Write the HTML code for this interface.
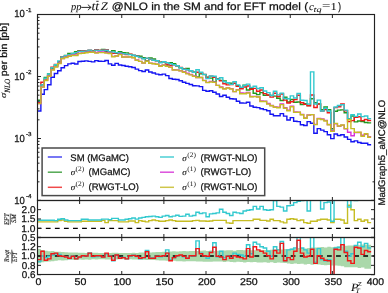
<!DOCTYPE html>
<html><head><meta charset="utf-8"><style>
html,body{margin:0;padding:0;background:#fff;}
svg{display:block;will-change:transform;}
text{fill:#111;stroke:#111;stroke-width:0.25px;text-rendering:geometricPrecision;}
</style></head><body>
<svg width="388" height="293" viewBox="0 0 388 293">
<rect width="388" height="293" fill="#fff"/>
<defs><clipPath id="cm"><rect x="37.5" y="14.5" width="337.0" height="186.0"/></clipPath>
<clipPath id="c1"><rect x="37.5" y="200.5" width="337.0" height="37.0"/></clipPath>
<clipPath id="c2"><rect x="37.5" y="237.5" width="337.0" height="37.0"/></clipPath></defs>
<g clip-path="url(#cm)" fill="none" stroke-width="1.40" stroke-linejoin="miter">
<path d="M37.50 111.00 L40.87 111.00 L40.87 94.20 L44.24 94.20 L44.24 89.60 L47.61 89.60 L47.61 84.80 L50.98 84.80 L50.98 77.20 L54.35 77.20 L54.35 73.50 L57.72 73.50 L57.72 70.80 L61.09 70.80 L61.09 67.80 L64.46 67.80 L64.46 65.60 L67.83 65.60 L67.83 63.90 L71.20 63.90 L71.20 63.20 L74.57 63.20 L74.57 64.00 L77.94 64.00 L77.94 61.50 L81.31 61.50 L81.31 61.30 L84.68 61.30 L84.68 60.90 L88.05 60.90 L88.05 61.40 L91.42 61.40 L91.42 61.90 L94.79 61.90 L94.79 60.60 L98.16 60.60 L98.16 61.20 L101.53 61.20 L101.53 61.40 L104.90 61.40 L104.90 60.50 L108.27 60.50 L108.27 63.90 L111.64 63.90 L111.64 65.20 L115.01 65.20 L115.01 63.40 L118.38 63.40 L118.38 65.00 L121.75 65.00 L121.75 65.50 L125.12 65.50 L125.12 66.30 L128.49 66.30 L128.49 66.70 L131.86 66.70 L131.86 67.50 L135.23 67.50 L135.23 69.10 L138.60 69.10 L138.60 70.60 L141.97 70.60 L141.97 71.50 L145.34 71.50 L145.34 70.00 L148.71 70.00 L148.71 72.00 L152.08 72.00 L152.08 73.00 L155.45 73.00 L155.45 74.10 L158.82 74.10 L158.82 74.80 L162.19 74.80 L162.19 74.10 L165.56 74.10 L165.56 75.60 L168.93 75.60 L168.93 78.50 L172.30 78.50 L172.30 79.20 L175.67 79.20 L175.67 79.50 L179.04 79.50 L179.04 80.70 L182.41 80.70 L182.41 82.30 L185.78 82.30 L185.78 83.40 L189.15 83.40 L189.15 84.50 L192.52 84.50 L192.52 85.70 L195.89 85.70 L195.89 85.90 L199.26 85.90 L199.26 86.60 L202.63 86.60 L202.63 90.40 L206.00 90.40 L206.00 91.30 L209.37 91.30 L209.37 90.70 L212.74 90.70 L212.74 92.20 L216.11 92.20 L216.11 94.00 L219.48 94.00 L219.48 96.50 L222.85 96.50 L222.85 95.30 L226.22 95.30 L226.22 97.20 L229.59 97.20 L229.59 98.80 L232.96 98.80 L232.96 99.00 L236.33 99.00 L236.33 101.20 L239.70 101.20 L239.70 103.00 L243.07 103.00 L243.07 103.10 L246.44 103.10 L246.44 102.30 L249.81 102.30 L249.81 106.00 L253.18 106.00 L253.18 107.20 L256.55 107.20 L256.55 107.60 L259.92 107.60 L259.92 108.70 L263.29 108.70 L263.29 109.60 L266.66 109.60 L266.66 110.80 L270.03 110.80 L270.03 114.20 L273.40 114.20 L273.40 115.80 L276.77 115.80 L276.77 115.80 L280.14 115.80 L280.14 113.60 L283.51 113.60 L283.51 116.10 L286.88 116.10 L286.88 120.00 L290.25 120.00 L290.25 117.60 L293.62 117.60 L293.62 121.30 L296.99 121.30 L296.99 121.60 L300.36 121.60 L300.36 124.70 L303.73 124.70 L303.73 125.50 L307.10 125.50 L307.10 121.60 L310.47 121.60 L310.47 123.20 L313.84 123.20 L313.84 133.20 L317.21 133.20 L317.21 128.60 L320.58 128.60 L320.58 130.10 L323.95 130.10 L323.95 131.60 L327.32 131.60 L327.32 134.70 L330.69 134.70 L330.69 138.60 L334.06 138.60 L334.06 134.00 L337.43 134.00 L337.43 135.50 L340.80 135.50 L340.80 134.70 L344.17 134.70 L344.17 137.00 L347.54 137.00 L347.54 139.40 L350.91 139.40 L350.91 141.70 L354.28 141.70 L354.28 140.90 L357.65 140.90 L357.65 142.50 L361.02 142.50 L361.02 143.20 L364.39 143.20 L364.39 143.20 L367.76 143.20 L367.76 144.80 L371.13 144.80" stroke="#1515f2"/>
<path d="M37.50 100.19 L40.87 100.19 L40.87 84.90 L44.24 84.90 L44.24 77.36 L47.61 77.36 L47.61 73.83 L50.98 73.83 L50.98 68.37 L54.35 68.37 L54.35 66.04 L57.72 66.04 L57.72 61.81 L61.09 61.81 L61.09 56.58 L64.46 56.58 L64.46 55.42 L67.83 55.42 L67.83 53.40 L71.20 53.40 L71.20 53.51 L74.57 53.51 L74.57 51.60 L77.94 51.60 L77.94 50.73 L81.31 50.73 L81.31 50.98 L84.68 50.98 L84.68 51.24 L88.05 51.24 L88.05 51.78 L91.42 51.78 L91.42 50.68 L94.79 50.68 L94.79 49.79 L98.16 49.79 L98.16 50.57 L101.53 50.57 L101.53 49.45 L104.90 49.45 L104.90 51.45 L108.27 51.45 L108.27 52.02 L111.64 52.02 L111.64 50.80 L115.01 50.80 L115.01 53.18 L118.38 53.18 L118.38 51.80 L121.75 51.80 L121.75 52.81 L125.12 52.81 L125.12 52.90 L128.49 52.90 L128.49 54.39 L131.86 54.39 L131.86 55.64 L135.23 55.64 L135.23 55.82 L138.60 55.82 L138.60 56.20 L141.97 56.20 L141.97 57.71 L145.34 57.71 L145.34 60.70 L148.71 60.70 L148.71 57.93 L152.08 57.93 L152.08 59.04 L155.45 59.04 L155.45 60.60 L158.82 60.60 L158.82 62.24 L162.19 62.24 L162.19 61.78 L165.56 61.78 L165.56 65.80 L168.93 65.80 L168.93 62.60 L172.30 62.60 L172.30 63.75 L175.67 63.75 L175.67 65.88 L179.04 65.88 L179.04 67.91 L182.41 67.91 L182.41 68.73 L185.78 68.73 L185.78 68.50 L189.15 68.50 L189.15 70.77 L192.52 70.77 L192.52 72.31 L195.89 72.31 L195.89 77.00 L199.26 77.00 L199.26 73.92 L202.63 73.92 L202.63 74.59 L206.00 74.59 L206.00 77.30 L209.37 77.30 L209.37 78.08 L212.74 78.08 L212.74 81.90 L216.11 81.90 L216.11 78.69 L219.48 78.69 L219.48 80.33 L222.85 80.33 L222.85 80.86 L226.22 80.86 L226.22 82.83 L229.59 82.83 L229.59 83.20 L232.96 83.20 L232.96 83.42 L236.33 83.42 L236.33 85.81 L239.70 85.81 L239.70 87.84 L243.07 87.84 L243.07 85.26 L246.44 85.26 L246.44 89.94 L249.81 89.94 L249.81 88.61 L253.18 88.61 L253.18 93.25 L256.55 93.25 L256.55 94.58 L259.92 94.58 L259.92 92.67 L263.29 92.67 L263.29 95.23 L266.66 95.23 L266.66 95.24 L270.03 95.24 L270.03 95.40 L273.40 95.40 L273.40 96.17 L276.77 96.17 L276.77 98.19 L280.14 98.19 L280.14 100.43 L283.51 100.43 L283.51 97.23 L286.88 97.23 L286.88 101.99 L290.25 101.99 L290.25 99.56 L293.62 99.56 L293.62 102.23 L296.99 102.23 L296.99 101.93 L300.36 101.93 L300.36 104.44 L303.73 104.44 L303.73 103.80 L307.10 103.80 L307.10 105.55 L310.47 105.55 L310.47 98.69 L313.84 98.69 L313.84 102.80 L317.21 102.80 L317.21 104.06 L320.58 104.06 L320.58 109.77 L323.95 109.77 L323.95 107.07 L327.32 107.07 L327.32 109.80 L330.69 109.80 L330.69 128.82 L334.06 128.82 L334.06 111.25 L337.43 111.25 L337.43 110.10 L340.80 110.10 L340.80 109.86 L344.17 109.86 L344.17 112.73 L347.54 112.73 L347.54 118.71 L350.91 118.71 L350.91 115.94 L354.28 115.94 L354.28 121.89 L357.65 121.89 L357.65 120.96 L361.02 120.96 L361.02 121.49 L364.39 121.49 L364.39 122.43 L367.76 122.43 L367.76 122.85 L371.13 122.85" stroke="#1e9a1e"/>
<path d="M37.50 102.35 L40.87 102.35 L40.87 82.27 L44.24 82.27 L44.24 79.90 L47.61 79.90 L47.61 75.55 L50.98 75.55 L50.98 67.13 L54.35 67.13 L54.35 64.42 L57.72 64.42 L57.72 61.63 L61.09 61.63 L61.09 56.75 L64.46 56.75 L64.46 56.01 L67.83 56.01 L67.83 54.76 L71.20 54.76 L71.20 53.68 L74.57 53.68 L74.57 53.32 L77.94 53.32 L77.94 51.31 L81.31 51.31 L81.31 50.81 L84.68 50.81 L84.68 51.24 L88.05 51.24 L88.05 50.16 L91.42 50.16 L91.42 50.86 L94.79 50.86 L94.79 49.62 L98.16 49.62 L98.16 50.40 L101.53 50.40 L101.53 50.03 L104.90 50.03 L104.90 49.82 L108.27 49.82 L108.27 52.20 L111.64 52.20 L111.64 53.33 L115.01 53.33 L115.01 52.61 L118.38 52.61 L118.38 53.16 L121.75 53.16 L121.75 53.75 L125.12 53.75 L125.12 54.62 L128.49 54.62 L128.49 54.22 L131.86 54.22 L131.86 55.29 L135.23 55.29 L135.23 55.99 L138.60 55.99 L138.60 57.56 L141.97 57.56 L141.97 58.65 L145.34 58.65 L145.34 58.38 L148.71 58.38 L148.71 59.29 L152.08 59.29 L152.08 60.39 L155.45 60.39 L155.45 60.78 L158.82 60.78 L158.82 62.42 L162.19 62.42 L162.19 61.61 L165.56 61.61 L165.56 64.18 L168.93 64.18 L168.93 65.52 L172.30 65.52 L172.30 64.69 L175.67 64.69 L175.67 65.71 L179.04 65.71 L179.04 67.34 L182.41 67.34 L182.41 68.90 L185.78 68.90 L185.78 69.86 L189.15 69.86 L189.15 70.60 L192.52 70.60 L192.52 72.14 L195.89 72.14 L195.89 72.30 L199.26 72.30 L199.26 72.68 L202.63 72.68 L202.63 74.41 L206.00 74.41 L206.00 77.47 L209.37 77.47 L209.37 76.13 L212.74 76.13 L212.74 77.30 L216.11 77.30 L216.11 78.86 L219.48 78.86 L219.48 80.91 L222.85 80.91 L222.85 83.80 L226.22 83.80 L226.22 84.90 L229.59 84.90 L229.59 84.56 L232.96 84.56 L232.96 83.25 L236.33 83.25 L236.33 86.39 L239.70 86.39 L239.70 88.78 L243.07 88.78 L243.07 86.98 L246.44 86.98 L246.44 85.98 L249.81 85.98 L249.81 89.19 L253.18 89.19 L253.18 88.37 L256.55 88.37 L256.55 91.27 L259.92 91.27 L259.92 90.04 L263.29 90.04 L263.29 93.61 L266.66 93.61 L266.66 95.07 L270.03 95.07 L270.03 97.12 L273.40 97.12 L273.40 93.18 L276.77 93.18 L276.77 96.57 L280.14 96.57 L280.14 94.00 L283.51 94.00 L283.51 100.15 L286.88 100.15 L286.88 102.93 L290.25 102.93 L290.25 101.72 L293.62 101.72 L293.62 99.60 L296.99 99.60 L296.99 95.20 L300.36 95.20 L300.36 102.82 L303.73 102.82 L303.73 104.38 L307.10 104.38 L307.10 105.72 L310.47 105.72 L310.47 95.04 L313.84 95.04 L313.84 107.44 L317.21 107.44 L317.21 103.88 L320.58 103.88 L320.58 111.13 L323.95 111.13 L323.95 109.61 L327.32 109.61 L327.32 112.72 L330.69 112.72 L330.69 131.02 L334.06 131.02 L334.06 107.60 L337.43 107.60 L337.43 106.79 L340.80 106.79 L340.80 104.03 L344.17 104.03 L344.17 110.79 L347.54 110.79 L347.54 121.63 L350.91 121.63 L350.91 120.58 L354.28 120.58 L354.28 117.29 L357.65 117.29 L357.65 116.71 L361.02 116.71 L361.02 120.58 L364.39 120.58 L364.39 119.43 L367.76 119.43 L367.76 120.54 L371.13 120.54" stroke="#f01818"/>
<path d="M37.50 101.39 L40.87 101.39 L40.87 84.90 L44.24 84.90 L44.24 78.30 L47.61 78.30 L47.61 74.00 L50.98 74.00 L50.98 67.80 L54.35 67.80 L54.35 64.80 L57.72 64.80 L57.72 60.90 L61.09 60.90 L61.09 56.90 L64.46 56.90 L64.46 55.80 L67.83 55.80 L67.83 54.60 L71.20 54.60 L71.20 53.50 L74.57 53.50 L74.57 52.80 L77.94 52.80 L77.94 51.40 L81.31 51.40 L81.31 51.20 L84.68 51.20 L84.68 51.10 L88.05 51.10 L88.05 50.10 L91.42 50.10 L91.42 51.10 L94.79 51.10 L94.79 50.10 L98.16 50.10 L98.16 50.60 L101.53 50.60 L101.53 50.10 L104.90 50.10 L104.90 50.30 L108.27 50.30 L108.27 52.00 L111.64 52.00 L111.64 52.00 L115.01 52.00 L115.01 52.60 L118.38 52.60 L118.38 53.00 L121.75 53.00 L121.75 53.60 L125.12 53.60 L125.12 54.10 L128.49 54.10 L128.49 54.60 L131.86 54.60 L131.86 55.20 L135.23 55.20 L135.23 56.20 L138.60 56.20 L138.60 57.40 L141.97 57.40 L141.97 58.70 L145.34 58.70 L145.34 58.10 L148.71 58.10 L148.71 59.10 L152.08 59.10 L152.08 60.20 L155.45 60.20 L155.45 60.70 L158.82 60.70 L158.82 62.70 L162.19 62.70 L162.19 61.70 L165.56 61.70 L165.56 62.70 L168.93 62.70 L168.93 63.80 L172.30 63.80 L172.30 64.80 L175.67 64.80 L175.67 65.70 L179.04 65.70 L179.04 67.70 L182.41 67.70 L182.41 69.20 L185.78 69.20 L185.78 69.70 L189.15 69.70 L189.15 70.80 L192.52 70.80 L192.52 72.30 L195.89 72.30 L195.89 69.70 L199.26 69.70 L199.26 72.30 L202.63 72.30 L202.63 74.40 L206.00 74.40 L206.00 78.50 L209.37 78.50 L209.37 76.00 L212.74 76.00 L212.74 76.20 L216.11 76.20 L216.11 79.20 L219.48 79.20 L219.48 77.70 L222.85 77.70 L222.85 81.80 L226.22 81.80 L226.22 82.80 L229.59 82.80 L229.59 84.40 L232.96 84.40 L232.96 81.80 L236.33 81.80 L236.33 84.90 L239.70 84.90 L239.70 87.27 L243.07 87.27 L243.07 85.43 L246.44 85.43 L246.44 84.11 L249.81 84.11 L249.81 87.37 L253.18 87.37 L253.18 86.29 L256.55 86.29 L256.55 88.47 L259.92 88.47 L259.92 87.79 L263.29 87.79 L263.29 90.97 L266.66 90.97 L266.66 92.61 L270.03 92.61 L270.03 95.57 L273.40 95.57 L273.40 91.29 L276.77 91.29 L276.77 94.89 L280.14 94.89 L280.14 93.16 L283.51 93.16 L283.51 98.43 L286.88 98.43 L286.88 98.69 L290.25 98.69 L290.25 95.90 L293.62 95.90 L293.62 97.97 L296.99 97.97 L296.99 93.50 L300.36 93.50 L300.36 100.19 L303.73 100.19 L303.73 100.50 L307.10 100.50 L307.10 103.93 L310.47 103.93 L310.47 71.90 L313.84 71.90 L313.84 104.00 L317.21 104.00 L317.21 100.10 L320.58 100.10 L320.58 110.97 L323.95 110.97 L323.95 108.27 L327.32 108.27 L327.32 111.00 L330.69 111.00 L330.69 130.02 L334.06 130.02 L334.06 107.00 L337.43 107.00 L337.43 105.50 L340.80 105.50 L340.80 104.70 L344.17 104.70 L344.17 110.10 L347.54 110.10 L347.54 118.89 L350.91 118.89 L350.91 114.70 L354.28 114.70 L354.28 116.39 L357.65 116.39 L357.65 114.00 L361.02 114.00 L361.02 116.60 L364.39 116.60 L364.39 116.00 L367.76 116.00 L367.76 118.60 L371.13 118.60" stroke="#33c9cf"/>
<path d="M37.50 103.48 L40.87 103.48 L40.87 86.98 L44.24 86.98 L44.24 80.34 L47.61 80.34 L47.61 76.04 L50.98 76.04 L50.98 69.66 L54.35 69.66 L54.35 66.59 L57.72 66.59 L57.72 63.42 L61.09 63.42 L61.09 58.60 L64.46 58.60 L64.46 57.21 L67.83 57.21 L67.83 55.94 L71.20 55.94 L71.20 55.10 L74.57 55.10 L74.57 54.83 L77.94 54.83 L77.94 53.12 L81.31 53.12 L81.31 52.84 L84.68 52.84 L84.68 52.37 L88.05 52.37 L88.05 51.83 L91.42 51.83 L91.42 52.26 L94.79 52.26 L94.79 52.47 L98.16 52.47 L98.16 52.05 L101.53 52.05 L101.53 51.99 L104.90 51.99 L104.90 52.54 L108.27 52.54 L108.27 53.23 L111.64 53.23 L111.64 56.42 L115.01 56.42 L115.01 55.93 L118.38 55.93 L118.38 54.16 L121.75 54.16 L121.75 56.96 L125.12 56.96 L125.12 56.95 L128.49 56.95 L128.49 56.85 L131.86 56.85 L131.86 57.59 L135.23 57.59 L135.23 60.06 L138.60 60.06 L138.60 61.36 L141.97 61.36 L141.97 63.00 L145.34 63.00 L145.34 61.09 L148.71 61.09 L148.71 63.13 L152.08 63.13 L152.08 63.55 L155.45 63.55 L155.45 64.28 L158.82 64.28 L158.82 65.69 L162.19 65.69 L162.19 64.87 L165.56 64.87 L165.56 66.20 L168.93 66.20 L168.93 67.22 L172.30 67.22 L172.30 69.76 L175.67 69.76 L175.67 69.85 L179.04 69.85 L179.04 70.81 L182.41 70.81 L182.41 71.71 L185.78 71.71 L185.78 73.20 L189.15 73.20 L189.15 74.57 L192.52 74.57 L192.52 76.06 L195.89 76.06 L195.89 77.44 L199.26 77.44 L199.26 77.43 L202.63 77.43 L202.63 80.36 L206.00 80.36 L206.00 82.41 L209.37 82.41 L209.37 81.42 L212.74 81.42 L212.74 82.29 L216.11 82.29 L216.11 85.38 L219.48 85.38 L219.48 86.83 L222.85 86.83 L222.85 88.63 L226.22 88.63 L226.22 87.90 L229.59 87.90 L229.59 88.62 L232.96 88.62 L232.96 91.58 L236.33 91.58 L236.33 89.63 L239.70 89.63 L239.70 93.01 L243.07 93.01 L243.07 93.19 L246.44 93.19 L246.44 92.51 L249.81 92.51 L249.81 96.51 L253.18 96.51 L253.18 96.34 L256.55 96.34 L256.55 96.88 L259.92 96.88 L259.92 100.96 L263.29 100.96 L263.29 101.13 L266.66 101.13 L266.66 103.55 L270.03 103.55 L270.03 105.47 L273.40 105.47 L273.40 107.04 L276.77 107.04 L276.77 107.13 L280.14 107.13 L280.14 103.91 L283.51 103.91 L283.51 107.60 L286.88 107.60 L286.88 110.24 L290.25 110.24 L290.25 106.13 L293.62 106.13 L293.62 111.88 L296.99 111.88 L296.99 112.13 L300.36 112.13 L300.36 114.43 L303.73 114.43 L303.73 118.07 L307.10 118.07 L307.10 115.07 L310.47 115.07 L310.47 114.60 L313.84 114.60 L313.84 124.42 L317.21 124.42 L317.21 118.51 L320.58 118.51 L320.58 119.01 L323.95 119.01 L323.95 120.33 L327.32 120.33 L327.32 124.47 L330.69 124.47 L330.69 130.76 L334.06 130.76 L334.06 123.80 L337.43 123.80 L337.43 126.30 L340.80 126.30 L340.80 125.30 L344.17 125.30 L344.17 128.80 L347.54 128.80 L347.54 132.20 L350.91 132.20 L350.91 135.80 L354.28 135.80 L354.28 132.60 L357.65 132.60 L357.65 132.50 L361.02 132.50 L361.02 135.30 L364.39 135.30 L364.39 134.20 L367.76 134.20 L367.76 136.80 L371.13 136.80" stroke="#d830d8"/>
<path d="M37.50 103.59 L40.87 103.59 L40.87 87.10 L44.24 87.10 L44.24 80.50 L47.61 80.50 L47.61 76.20 L50.98 76.20 L50.98 70.00 L54.35 70.00 L54.35 67.00 L57.72 67.00 L57.72 63.60 L61.09 63.60 L61.09 58.60 L64.46 58.60 L64.46 57.50 L67.83 57.50 L67.83 56.20 L71.20 56.20 L71.20 55.50 L74.57 55.50 L74.57 55.50 L77.94 55.50 L77.94 53.60 L81.31 53.60 L81.31 53.20 L84.68 53.20 L84.68 52.80 L88.05 52.80 L88.05 52.30 L91.42 52.30 L91.42 52.30 L94.79 52.30 L94.79 53.10 L98.16 53.10 L98.16 52.60 L101.53 52.60 L101.53 52.60 L104.90 52.60 L104.90 53.10 L108.27 53.10 L108.27 53.50 L111.64 53.50 L111.64 56.70 L115.01 56.70 L115.01 56.00 L118.38 56.00 L118.38 54.60 L121.75 54.60 L121.75 57.00 L125.12 57.00 L125.12 57.00 L128.49 57.00 L128.49 57.00 L131.86 57.00 L131.86 57.70 L135.23 57.70 L135.23 60.30 L138.60 60.30 L138.60 61.40 L141.97 61.40 L141.97 63.00 L145.34 63.00 L145.34 61.20 L148.71 61.20 L148.71 63.20 L152.08 63.20 L152.08 63.80 L155.45 63.80 L155.45 64.30 L158.82 64.30 L158.82 66.30 L162.19 66.30 L162.19 65.30 L165.56 65.30 L165.56 66.30 L168.93 66.30 L168.93 67.40 L172.30 67.40 L172.30 70.00 L175.67 70.00 L175.67 70.10 L179.04 70.10 L179.04 70.90 L182.41 70.90 L182.41 72.30 L185.78 72.30 L185.78 73.90 L189.15 73.90 L189.15 74.90 L192.52 74.90 L192.52 76.40 L195.89 76.40 L195.89 77.50 L199.26 77.50 L199.26 77.50 L202.63 77.50 L202.63 80.60 L206.00 80.60 L206.00 82.60 L209.37 82.60 L209.37 82.00 L212.74 82.00 L212.74 82.40 L216.11 82.40 L216.11 85.40 L219.48 85.40 L219.48 87.50 L222.85 87.50 L222.85 89.00 L226.22 89.00 L226.22 88.00 L229.59 88.00 L229.59 89.00 L232.96 89.00 L232.96 91.60 L236.33 91.60 L236.33 90.00 L239.70 90.00 L239.70 93.69 L243.07 93.69 L243.07 93.79 L246.44 93.79 L246.44 92.99 L249.81 92.99 L249.81 96.69 L253.18 96.69 L253.18 96.60 L256.55 96.60 L256.55 97.00 L259.92 97.00 L259.92 101.50 L263.29 101.50 L263.29 101.50 L266.66 101.50 L266.66 104.10 L270.03 104.10 L270.03 105.70 L273.40 105.70 L273.40 107.20 L276.77 107.20 L276.77 107.70 L280.14 107.70 L280.14 104.60 L283.51 104.60 L283.51 108.20 L286.88 108.20 L286.88 110.80 L290.25 110.80 L290.25 106.70 L293.62 106.70 L293.62 112.40 L296.99 112.40 L296.99 112.29 L300.36 112.29 L300.36 114.79 L303.73 114.79 L303.73 118.32 L307.10 118.32 L307.10 115.09 L310.47 115.09 L310.47 114.62 L313.84 114.62 L313.84 124.62 L317.21 124.62 L317.21 118.69 L320.58 118.69 L320.58 119.50 L323.95 119.50 L323.95 121.00 L327.32 121.00 L327.32 124.79 L330.69 124.79 L330.69 131.42 L334.06 131.42 L334.06 123.40 L337.43 123.40 L337.43 126.00 L340.80 126.00 L340.80 125.00 L344.17 125.00 L344.17 128.60 L347.54 128.60 L347.54 119.80 L350.91 119.80 L350.91 128.60 L354.28 128.60 L354.28 132.20 L357.65 132.20 L357.65 132.20 L361.02 132.20 L361.02 136.30 L364.39 136.30 L364.39 133.70 L367.76 133.70 L367.76 137.30 L371.13 137.30" stroke="#c6bd24"/>
</g>
<g clip-path="url(#c1)" fill="none" stroke-width="1.40">
<line x1="36.73" x2="374.5" y1="228.30" y2="228.30" stroke="#000" stroke-width="1.3" stroke-dasharray="4.8 4.27"/>
<path d="M37.50 221.90 L40.87 221.90 L40.87 221.90 L44.24 221.90 L44.24 221.90 L47.61 221.90 L47.61 221.90 L50.98 221.90 L50.98 221.90 L54.35 221.90 L54.35 221.90 L57.72 221.90 L57.72 220.60 L61.09 220.60 L61.09 220.00 L64.46 220.00 L64.46 221.30 L67.83 221.30 L67.83 221.90 L71.20 221.90 L71.20 221.90 L74.57 221.90 L74.57 221.90 L77.94 221.90 L77.94 221.90 L81.31 221.90 L81.31 221.30 L84.68 221.30 L84.68 221.30 L88.05 221.30 L88.05 221.30 L91.42 221.30 L91.42 221.30 L94.79 221.30 L94.79 221.30 L98.16 221.30 L98.16 221.30 L101.53 221.30 L101.53 220.40 L104.90 220.40 L104.90 222.60 L108.27 222.60 L108.27 220.60 L111.64 220.60 L111.64 220.60 L115.01 220.60 L115.01 220.60 L118.38 220.60 L118.38 221.90 L121.75 221.90 L121.75 221.90 L125.12 221.90 L125.12 221.90 L128.49 221.90 L128.49 221.00 L131.86 221.00 L131.86 221.00 L135.23 221.00 L135.23 222.60 L138.60 222.60 L138.60 220.60 L141.97 220.60 L141.97 221.30 L145.34 221.30 L145.34 221.90 L148.71 221.90 L148.71 220.60 L152.08 220.60 L152.08 220.00 L155.45 220.00 L155.45 220.60 L158.82 220.60 L158.82 221.30 L162.19 221.30 L162.19 221.30 L165.56 221.30 L165.56 220.60 L168.93 220.60 L168.93 220.00 L172.30 220.00 L172.30 220.60 L175.67 220.60 L175.67 221.30 L179.04 221.30 L179.04 221.30 L182.41 221.30 L182.41 221.30 L185.78 221.30 L185.78 221.30 L189.15 221.30 L189.15 221.30 L192.52 221.30 L192.52 220.60 L195.89 220.60 L195.89 220.40 L199.26 220.40 L199.26 221.00 L202.63 221.00 L202.63 221.00 L206.00 221.00 L206.00 221.30 L209.37 221.30 L209.37 221.00 L212.74 221.00 L212.74 220.40 L216.11 220.40 L216.11 220.40 L219.48 220.40 L219.48 220.40 L222.85 220.40 L222.85 220.40 L226.22 220.40 L226.22 222.90 L229.59 222.90 L229.59 223.20 L232.96 223.20 L232.96 220.60 L236.33 220.60 L236.33 220.60 L239.70 220.60 L239.70 220.60 L243.07 220.60 L243.07 220.60 L246.44 220.60 L246.44 220.60 L249.81 220.60 L249.81 220.60 L253.18 220.60 L253.18 219.30 L256.55 219.30 L256.55 219.30 L259.92 219.30 L259.92 220.40 L263.29 220.40 L263.29 220.40 L266.66 220.40 L266.66 221.00 L270.03 221.00 L270.03 219.30 L273.40 219.30 L273.40 220.60 L276.77 220.60 L276.77 220.60 L280.14 220.60 L280.14 221.90 L283.51 221.90 L283.51 222.90 L286.88 222.90 L286.88 219.30 L290.25 219.30 L290.25 218.70 L293.62 218.70 L293.62 219.30 L296.99 219.30 L296.99 220.60 L300.36 220.60 L300.36 220.00 L303.73 220.00 L303.73 222.60 L307.10 222.60 L307.10 223.20 L310.47 223.20 L310.47 221.30 L313.84 221.30 L313.84 221.30 L317.21 221.30 L317.21 220.00 L320.58 220.00 L320.58 219.30 L323.95 219.30 L323.95 219.30 L327.32 219.30 L327.32 220.00 L330.69 220.00 L330.69 222.60 L334.06 222.60 L334.06 219.30 L337.43 219.30 L337.43 219.30 L340.80 219.30 L340.80 220.00 L344.17 220.00 L344.17 223.20 L347.54 223.20 L347.54 205.20 L350.91 205.20 L350.91 209.70 L354.28 209.70 L354.28 220.60 L357.65 220.60 L357.65 219.30 L361.02 219.30 L361.02 221.30 L364.39 221.30 L364.39 220.00 L367.76 220.00 L367.76 222.60 L371.13 222.60" stroke="#c6bd24"/>
<path d="M37.50 220.30 L40.87 220.30 L40.87 220.30 L44.24 220.30 L44.24 220.30 L47.61 220.30 L47.61 220.30 L50.98 220.30 L50.98 220.30 L54.35 220.30 L54.35 220.60 L57.72 220.60 L57.72 219.30 L61.09 219.30 L61.09 218.70 L64.46 218.70 L64.46 220.00 L67.83 220.00 L67.83 220.60 L71.20 220.60 L71.20 220.60 L74.57 220.60 L74.57 220.60 L77.94 220.60 L77.94 220.60 L81.31 220.60 L81.31 219.30 L84.68 219.30 L84.68 219.30 L88.05 219.30 L88.05 220.00 L91.42 220.00 L91.42 220.00 L94.79 220.00 L94.79 220.00 L98.16 220.00 L98.16 220.00 L101.53 220.00 L101.53 219.10 L104.90 219.10 L104.90 219.10 L108.27 219.10 L108.27 219.60 L111.64 219.60 L111.64 218.40 L115.01 218.40 L115.01 218.40 L118.38 218.40 L118.38 220.00 L121.75 220.00 L121.75 220.00 L125.12 220.00 L125.12 219.30 L128.49 219.30 L128.49 218.70 L131.86 218.70 L131.86 218.00 L135.23 218.00 L135.23 219.10 L138.60 219.10 L138.60 218.00 L141.97 218.00 L141.97 217.40 L145.34 217.40 L145.34 216.80 L148.71 216.80 L148.71 216.50 L152.08 216.50 L152.08 216.10 L155.45 216.10 L155.45 216.80 L158.82 216.80 L158.82 217.40 L162.19 217.40 L162.19 216.10 L165.56 216.10 L165.56 215.50 L168.93 215.50 L168.93 216.80 L172.30 216.80 L172.30 216.10 L175.67 216.10 L175.67 215.20 L179.04 215.20 L179.04 216.40 L182.41 216.40 L182.41 216.10 L185.78 216.10 L185.78 214.20 L189.15 214.20 L189.15 216.10 L192.52 216.10 L192.52 215.50 L195.89 215.50 L195.89 212.20 L199.26 212.20 L199.26 213.50 L202.63 213.50 L202.63 212.90 L206.00 212.90 L206.00 216.80 L209.37 216.80 L209.37 213.90 L212.74 213.90 L212.74 213.50 L216.11 213.50 L216.11 212.90 L219.48 212.90 L219.48 209.30 L222.85 209.30 L222.85 212.20 L226.22 212.20 L226.22 213.50 L229.59 213.50 L229.59 215.50 L232.96 215.50 L232.96 212.20 L236.33 212.20 L236.33 212.90 L239.70 212.90 L239.70 213.50 L243.07 213.50 L243.07 211.00 L246.44 211.00 L246.44 210.30 L249.81 210.30 L249.81 209.70 L253.18 209.70 L253.18 206.40 L256.55 206.40 L256.55 209.00 L259.92 209.00 L259.92 206.40 L263.29 206.40 L263.29 209.70 L266.66 209.70 L266.66 210.30 L270.03 210.30 L270.03 209.70 L273.40 209.70 L273.40 200.60 L276.77 200.60 L276.77 206.40 L280.14 206.40 L280.14 207.10 L283.51 207.10 L283.51 211.00 L286.88 211.00 L286.88 205.80 L290.25 205.80 L290.25 205.20 L293.62 205.20 L293.62 202.60 L296.99 202.60 L296.99 201.30 L300.36 201.30 L300.36 200.60 L303.73 200.60 L303.73 199.75 L307.10 199.75 L307.10 211.00 L310.47 211.00 L310.47 121.61 L313.84 121.61 L313.84 191.79 L317.21 191.79 L317.21 193.20 L320.58 193.20 L320.58 209.00 L323.95 209.00 L323.95 202.60 L327.32 202.60 L327.32 201.98 L330.69 201.98 L330.69 221.30 L334.06 221.30 L334.06 196.12 L337.43 196.12 L337.43 190.12 L340.80 190.12 L340.80 190.12 L344.17 190.12 L344.17 196.30 L347.54 196.30 L347.54 207.00 L350.91 207.00 L350.91 196.12 L354.28 196.12 L354.28 200.60 L357.65 200.60 L357.65 193.20 L361.02 193.20 L361.02 196.86 L364.39 196.86 L364.39 195.74 L367.76 195.74 L367.76 197.60 L371.13 197.60" stroke="#33c9cf"/>
</g>
<g clip-path="url(#c2)" fill="none" stroke-width="1.40">
<path d="M37.50 249.00 L40.87 249.00 L40.87 250.04 L44.24 250.04 L44.24 250.65 L47.61 250.65 L47.61 251.18 L50.98 251.18 L50.98 251.10 L54.35 251.10 L54.35 251.68 L57.72 251.68 L57.72 251.85 L61.09 251.85 L61.09 252.05 L64.46 252.05 L64.46 252.13 L67.83 252.13 L67.83 252.41 L71.20 252.41 L71.20 252.41 L74.57 252.41 L74.57 252.54 L77.94 252.54 L77.94 252.84 L81.31 252.84 L81.31 252.65 L84.68 252.65 L84.68 253.00 L88.05 253.00 L88.05 253.04 L91.42 253.04 L91.42 252.81 L94.79 252.81 L94.79 252.84 L98.16 252.84 L98.16 252.94 L101.53 252.94 L101.53 252.97 L104.90 252.97 L104.90 253.17 L108.27 253.17 L108.27 252.91 L111.64 252.91 L111.64 252.80 L115.01 252.80 L115.01 252.81 L118.38 252.81 L118.38 253.06 L121.75 253.06 L121.75 253.02 L125.12 253.02 L125.12 252.89 L128.49 252.89 L128.49 252.95 L131.86 252.95 L131.86 252.75 L135.23 252.75 L135.23 252.92 L138.60 252.92 L138.60 252.60 L141.97 252.60 L141.97 252.45 L145.34 252.45 L145.34 252.48 L148.71 252.48 L148.71 252.58 L152.08 252.58 L152.08 252.37 L155.45 252.37 L155.45 251.93 L158.82 251.93 L158.82 251.96 L162.19 251.96 L162.19 251.78 L165.56 251.78 L165.56 251.66 L168.93 251.66 L168.93 251.38 L172.30 251.38 L172.30 251.37 L175.67 251.37 L175.67 251.47 L179.04 251.47 L179.04 251.28 L182.41 251.28 L182.41 251.06 L185.78 251.06 L185.78 251.19 L189.15 251.19 L189.15 251.10 L192.52 251.10 L192.52 250.92 L195.89 250.92 L195.89 250.96 L199.26 250.96 L199.26 250.64 L202.63 250.64 L202.63 250.62 L206.00 250.62 L206.00 250.96 L209.37 250.96 L209.37 250.47 L212.74 250.47 L212.74 250.96 L216.11 250.96 L216.11 250.72 L219.48 250.72 L219.48 250.81 L222.85 250.81 L222.85 250.49 L226.22 250.49 L226.22 250.29 L229.59 250.29 L229.59 250.37 L232.96 250.37 L232.96 250.73 L236.33 250.73 L236.33 250.12 L239.70 250.12 L239.70 250.09 L243.07 250.09 L243.07 250.34 L246.44 250.34 L246.44 250.02 L249.81 250.02 L249.81 250.24 L253.18 250.24 L253.18 250.24 L256.55 250.24 L256.55 250.18 L259.92 250.18 L259.92 250.34 L263.29 250.34 L263.29 249.95 L266.66 249.95 L266.66 249.97 L270.03 249.97 L270.03 249.76 L273.40 249.76 L273.40 249.32 L276.77 249.32 L276.77 249.13 L280.14 249.13 L280.14 249.52 L283.51 249.52 L283.51 248.90 L286.88 248.90 L286.88 249.27 L290.25 249.27 L290.25 248.40 L293.62 248.40 L293.62 248.80 L296.99 248.80 L296.99 247.99 L300.36 247.99 L300.36 248.01 L303.73 248.01 L303.73 248.51 L307.10 248.51 L307.10 248.02 L310.47 248.02 L310.47 247.38 L313.84 247.38 L313.84 247.39 L317.21 247.39 L317.21 247.21 L320.58 247.21 L320.58 247.07 L323.95 247.07 L323.95 247.50 L327.32 247.50 L327.32 246.74 L330.69 246.74 L330.69 247.28 L334.06 247.28 L334.06 246.84 L337.43 246.84 L337.43 246.61 L340.80 246.61 L340.80 246.24 L344.17 246.24 L344.17 245.78 L347.54 245.78 L347.54 245.48 L350.91 245.48 L350.91 245.46 L354.28 245.46 L354.28 245.52 L357.65 245.52 L357.65 245.37 L361.02 245.37 L361.02 244.46 L364.39 244.46 L364.39 244.40 L367.76 244.40 L367.76 244.77 L371.13 244.77 L371.13 268.66 L367.76 268.66 L367.76 268.65 L364.39 268.65 L364.39 267.43 L361.02 267.43 L361.02 268.02 L357.65 268.02 L357.65 267.19 L354.28 267.19 L354.28 267.16 L350.91 267.16 L350.91 267.20 L347.54 267.20 L347.54 267.20 L344.17 267.20 L344.17 266.30 L340.80 266.30 L340.80 265.66 L337.43 265.66 L337.43 265.41 L334.06 265.41 L334.06 265.56 L330.69 265.56 L330.69 264.95 L327.32 264.95 L327.32 265.13 L323.95 265.13 L323.95 264.90 L320.58 264.90 L320.58 264.38 L317.21 264.38 L317.21 264.28 L313.84 264.28 L313.84 264.71 L310.47 264.71 L310.47 264.03 L307.10 264.03 L307.10 264.51 L303.73 264.51 L303.73 263.81 L300.36 263.81 L300.36 264.08 L296.99 264.08 L296.99 263.50 L293.62 263.50 L293.62 263.92 L290.25 263.92 L290.25 263.38 L286.88 263.38 L286.88 263.07 L283.51 263.07 L283.51 262.70 L280.14 262.70 L280.14 262.57 L276.77 262.57 L276.77 262.92 L273.40 262.92 L273.40 262.29 L270.03 262.29 L270.03 262.65 L266.66 262.65 L266.66 262.13 L263.29 262.13 L263.29 262.46 L259.92 262.46 L259.92 262.51 L256.55 262.51 L256.55 262.06 L253.18 262.06 L253.18 262.22 L249.81 262.22 L249.81 261.90 L246.44 261.90 L246.44 262.42 L243.07 262.42 L243.07 261.93 L239.70 261.93 L239.70 261.77 L236.33 261.77 L236.33 262.18 L232.96 262.18 L232.96 261.99 L229.59 261.99 L229.59 261.61 L226.22 261.61 L226.22 261.99 L222.85 261.99 L222.85 261.48 L219.48 261.48 L219.48 261.44 L216.11 261.44 L216.11 261.43 L212.74 261.43 L212.74 261.86 L209.37 261.86 L209.37 261.64 L206.00 261.64 L206.00 261.82 L202.63 261.82 L202.63 261.61 L199.26 261.61 L199.26 261.41 L195.89 261.41 L195.89 261.33 L192.52 261.33 L192.52 261.31 L189.15 261.31 L189.15 261.31 L185.78 261.31 L185.78 261.43 L182.41 261.43 L182.41 261.16 L179.04 261.16 L179.04 261.22 L175.67 261.22 L175.67 260.86 L172.30 260.86 L172.30 260.64 L168.93 260.64 L168.93 260.76 L165.56 260.76 L165.56 260.50 L162.19 260.50 L162.19 260.57 L158.82 260.57 L158.82 260.16 L155.45 260.16 L155.45 259.94 L152.08 259.94 L152.08 260.02 L148.71 260.02 L148.71 259.92 L145.34 259.92 L145.34 259.77 L141.97 259.77 L141.97 259.60 L138.60 259.60 L138.60 259.53 L135.23 259.53 L135.23 259.43 L131.86 259.43 L131.86 259.34 L128.49 259.34 L128.49 259.38 L125.12 259.38 L125.12 259.36 L121.75 259.36 L121.75 259.36 L118.38 259.36 L118.38 259.57 L115.01 259.57 L115.01 259.41 L111.64 259.41 L111.64 259.44 L108.27 259.44 L108.27 259.60 L104.90 259.60 L104.90 259.27 L101.53 259.27 L101.53 259.34 L98.16 259.34 L98.16 259.62 L94.79 259.62 L94.79 259.33 L91.42 259.33 L91.42 259.66 L88.05 259.66 L88.05 259.38 L84.68 259.38 L84.68 259.66 L81.31 259.66 L81.31 259.56 L77.94 259.56 L77.94 259.93 L74.57 259.93 L74.57 259.79 L71.20 259.79 L71.20 259.85 L67.83 259.85 L67.83 260.25 L64.46 260.25 L64.46 260.47 L61.09 260.47 L61.09 260.19 L57.72 260.19 L57.72 260.82 L54.35 260.82 L54.35 261.27 L50.98 261.27 L50.98 261.48 L47.61 261.48 L47.61 261.72 L44.24 261.72 L44.24 262.26 L40.87 262.26 L40.87 263.37 L37.50 263.37 Z" fill="#aad8aa" stroke="none"/>
<line x1="36.73" x2="374.5" y1="256.00" y2="256.00" stroke="#000" stroke-width="1.3" stroke-dasharray="4.8 4.27"/>
<path d="M37.50 261.50 L40.87 261.50 L40.87 256.00 L44.24 256.00 L44.24 257.60 L47.61 257.60 L47.61 256.30 L50.98 256.30 L50.98 255.00 L54.35 255.00 L54.35 253.80 L57.72 253.80 L57.72 254.40 L61.09 254.40 L61.09 256.56 L64.46 256.56 L64.46 256.65 L67.83 256.65 L67.83 258.46 L71.20 258.46 L71.20 255.99 L74.57 255.99 L74.57 258.62 L77.94 258.62 L77.94 257.15 L81.31 257.15 L81.31 256.37 L84.68 256.37 L84.68 255.76 L88.05 255.76 L88.05 252.99 L91.42 252.99 L91.42 256.72 L94.79 256.72 L94.79 256.53 L98.16 256.53 L98.16 256.05 L101.53 256.05 L101.53 257.12 L104.90 257.12 L104.90 253.97 L108.27 253.97 L108.27 255.96 L111.64 255.96 L111.64 260.92 L115.01 260.92 L115.01 254.98 L118.38 254.98 L118.38 258.09 L121.75 258.09 L121.75 257.35 L125.12 257.35 L125.12 258.90 L128.49 258.90 L128.49 256.36 L131.86 256.36 L131.86 255.23 L135.23 255.23 L135.23 256.66 L138.60 256.66 L138.60 258.73 L141.97 258.73 L141.97 257.68 L145.34 257.68 L145.34 250.50 L148.71 250.50 L148.71 257.98 L152.08 257.98 L152.08 257.98 L155.45 257.98 L155.45 256.17 L158.82 256.17 L158.82 256.78 L162.19 256.78 L162.19 255.86 L165.56 255.86 L165.56 249.90 L168.93 249.90 L168.93 259.60 L172.30 259.60 L172.30 257.79 L175.67 257.79 L175.67 255.69 L179.04 255.69 L179.04 255.63 L182.41 255.63 L182.41 256.81 L185.78 256.81 L185.78 258.22 L189.15 258.22 L189.15 256.05 L192.52 256.05 L192.52 255.98 L195.89 255.98 L195.89 240.90 L199.26 240.90 L199.26 253.10 L202.63 253.10 L202.63 255.67 L206.00 255.67 L206.00 258.30 L209.37 258.30 L209.37 252.25 L212.74 252.25 L212.74 242.80 L216.11 242.80 L216.11 256.88 L219.48 256.88 L219.48 251.20 L222.85 251.20 L222.85 257.60 L226.22 257.60 L226.22 255.95 L229.59 255.95 L229.59 258.30 L232.96 258.30 L232.96 253.10 L236.33 253.10 L236.33 254.40 L239.70 254.40 L239.70 255.00 L243.07 255.00 L243.07 256.30 L246.44 256.30 L246.44 244.70 L249.81 244.70 L249.81 253.80 L253.18 253.80 L253.18 242.20 L256.55 242.20 L256.55 244.10 L259.92 244.10 L259.92 246.70 L263.29 246.70 L263.29 248.00 L266.66 248.00 L266.66 251.20 L270.03 251.20 L270.03 256.30 L273.40 256.30 L273.40 246.70 L276.77 246.70 L276.77 249.90 L280.14 249.90 L280.14 241.50 L283.51 241.50 L283.51 260.80 L286.88 260.80 L286.88 249.90 L290.25 249.90 L290.25 249.20 L293.62 249.20 L293.62 248.00 L296.99 248.00 L296.99 225.00 L300.36 225.00 L300.36 248.00 L303.73 248.00 L303.73 249.90 L307.10 249.90 L307.10 253.10 L310.47 253.10 L310.47 220.00 L313.84 220.00 L313.84 262.10 L317.21 262.10 L317.21 248.60 L320.58 248.60 L320.58 259.60 L323.95 259.60 L323.95 260.80 L327.32 260.80 L327.32 259.60 L330.69 259.60 L330.69 290.00 L334.06 290.00 L334.06 248.00 L337.43 248.00 L337.43 247.30 L340.80 247.30 L340.80 225.00 L344.17 225.00 L344.17 251.20 L347.54 251.20 L347.54 256.30 L350.91 256.30 L350.91 253.80 L354.28 253.80 L354.28 245.40 L357.65 245.40 L357.65 242.20 L361.02 242.20 L361.02 246.70 L364.39 246.70 L364.39 243.40 L367.76 243.40 L367.76 248.00 L371.13 248.00" stroke="#33c9cf"/>
<path d="M37.50 259.60 L40.87 259.60 L40.87 251.20 L44.24 251.20 L44.24 260.20 L47.61 260.20 L47.61 258.90 L50.98 258.90 L50.98 253.80 L54.35 253.80 L54.35 253.10 L57.72 253.10 L57.72 255.70 L61.09 255.70 L61.09 256.30 L64.46 256.30 L64.46 257.00 L67.83 257.00 L67.83 258.30 L71.20 258.30 L71.20 256.30 L74.57 256.30 L74.57 258.90 L77.94 258.90 L77.94 257.00 L81.31 257.00 L81.31 255.70 L84.68 255.70 L84.68 256.00 L88.05 256.00 L88.05 253.10 L91.42 253.10 L91.42 256.30 L94.79 256.30 L94.79 255.70 L98.16 255.70 L98.16 255.70 L101.53 255.70 L101.53 257.00 L104.90 257.00 L104.90 253.10 L108.27 253.10 L108.27 256.30 L111.64 256.30 L111.64 260.20 L115.01 260.20 L115.01 255.00 L118.38 255.00 L118.38 258.30 L121.75 258.30 L121.75 257.60 L125.12 257.60 L125.12 258.90 L128.49 258.90 L128.49 255.70 L131.86 255.70 L131.86 255.40 L135.23 255.40 L135.23 256.30 L138.60 256.30 L138.60 258.30 L141.97 258.30 L141.97 257.60 L145.34 257.60 L145.34 251.80 L148.71 251.80 L148.71 258.30 L152.08 258.30 L152.08 258.30 L155.45 258.30 L155.45 256.30 L158.82 256.30 L158.82 256.30 L162.19 256.30 L162.19 255.70 L165.56 255.70 L165.56 253.10 L168.93 253.10 L168.93 260.80 L172.30 260.80 L172.30 257.60 L175.67 257.60 L175.67 255.70 L179.04 255.70 L179.04 255.00 L182.41 255.00 L182.41 256.30 L185.78 256.30 L185.78 258.30 L189.15 258.30 L189.15 255.70 L192.52 255.70 L192.52 255.70 L195.89 255.70 L195.89 248.60 L199.26 248.60 L199.26 253.80 L202.63 253.80 L202.63 255.70 L206.00 255.70 L206.00 256.30 L209.37 256.30 L209.37 252.50 L212.74 252.50 L212.74 247.30 L216.11 247.30 L216.11 256.30 L219.48 256.30 L219.48 257.00 L222.85 257.00 L222.85 259.60 L226.22 259.60 L226.22 256.30 L229.59 256.30 L229.59 258.30 L232.96 258.30 L232.96 255.70 L236.33 255.70 L236.33 257.00 L239.70 257.00 L239.70 257.60 L243.07 257.60 L243.07 258.90 L246.44 258.90 L246.44 248.60 L249.81 248.60 L249.81 257.00 L253.18 257.00 L253.18 246.70 L256.55 246.70 L256.55 249.90 L259.92 249.90 L259.92 251.20 L263.29 251.20 L263.29 253.10 L266.66 253.10 L266.66 255.70 L270.03 255.70 L270.03 258.90 L273.40 258.90 L273.40 250.50 L276.77 250.50 L276.77 253.10 L280.14 253.10 L280.14 243.40 L283.51 243.40 L283.51 260.80 L286.88 260.80 L286.88 257.60 L290.25 257.60 L290.25 259.60 L293.62 259.60 L293.62 251.20 L296.99 251.20 L296.99 240.20 L300.36 240.20 L300.36 253.10 L303.73 253.10 L303.73 257.00 L307.10 257.00 L307.10 256.30 L310.47 256.30 L310.47 249.20 L313.84 249.20 L313.84 263.40 L317.21 263.40 L317.21 255.70 L320.58 255.70 L320.58 258.30 L323.95 258.30 L323.95 260.20 L327.32 260.20 L327.32 260.80 L330.69 260.80 L330.69 290.00 L334.06 290.00 L334.06 249.20 L337.43 249.20 L337.43 249.90 L340.80 249.90 L340.80 244.70 L344.17 244.70 L344.17 252.50 L347.54 252.50 L347.54 260.80 L350.91 260.80 L350.91 263.40 L354.28 263.40 L354.28 247.30 L357.65 247.30 L357.65 248.00 L361.02 248.00 L361.02 254.40 L364.39 254.40 L364.39 250.50 L367.76 250.50 L367.76 251.80 L371.13 251.80" stroke="#f01818"/>
</g>
<rect x="37.5" y="14.5" width="337.0" height="186.0" fill="none" stroke="#222" stroke-width="1.15"/>
<rect x="37.5" y="200.5" width="337.0" height="37.0" fill="none" stroke="#222" stroke-width="1.15"/>
<rect x="37.5" y="237.5" width="337.0" height="37.0" fill="none" stroke="#222" stroke-width="1.15"/>
<path d="M37.50 14.50 v3.5 M37.50 200.50 v-3.5 M37.50 200.50 v3.5 M37.50 237.50 v-3.5 M37.50 237.50 v3.5 M37.50 274.50 v-3.5 M79.62 14.50 v3.5 M79.62 200.50 v-3.5 M79.62 200.50 v3.5 M79.62 237.50 v-3.5 M79.62 237.50 v3.5 M79.62 274.50 v-3.5 M121.75 14.50 v3.5 M121.75 200.50 v-3.5 M121.75 200.50 v3.5 M121.75 237.50 v-3.5 M121.75 237.50 v3.5 M121.75 274.50 v-3.5 M163.88 14.50 v3.5 M163.88 200.50 v-3.5 M163.88 200.50 v3.5 M163.88 237.50 v-3.5 M163.88 237.50 v3.5 M163.88 274.50 v-3.5 M206.00 14.50 v3.5 M206.00 200.50 v-3.5 M206.00 200.50 v3.5 M206.00 237.50 v-3.5 M206.00 237.50 v3.5 M206.00 274.50 v-3.5 M248.12 14.50 v3.5 M248.12 200.50 v-3.5 M248.12 200.50 v3.5 M248.12 237.50 v-3.5 M248.12 237.50 v3.5 M248.12 274.50 v-3.5 M290.25 14.50 v3.5 M290.25 200.50 v-3.5 M290.25 200.50 v3.5 M290.25 237.50 v-3.5 M290.25 237.50 v3.5 M290.25 274.50 v-3.5 M332.38 14.50 v3.5 M332.38 200.50 v-3.5 M332.38 200.50 v3.5 M332.38 237.50 v-3.5 M332.38 237.50 v3.5 M332.38 274.50 v-3.5 M374.50 14.50 v3.5 M374.50 200.50 v-3.5 M374.50 200.50 v3.5 M374.50 237.50 v-3.5 M374.50 237.50 v3.5 M374.50 274.50 v-3.5 M37.50 200.50 h3.5 M37.50 181.84 h2 M37.50 170.92 h2 M37.50 163.17 h2 M37.50 157.16 h2 M37.50 152.25 h2 M37.50 148.10 h2 M37.50 144.51 h2 M37.50 141.34 h2 M37.50 138.50 h3.5 M37.50 119.84 h2 M37.50 108.92 h2 M37.50 101.17 h2 M37.50 95.16 h2 M37.50 90.25 h2 M37.50 86.10 h2 M37.50 82.51 h2 M37.50 79.34 h2 M37.50 76.50 h3.5 M37.50 57.84 h2 M37.50 46.92 h2 M37.50 39.17 h2 M37.50 33.16 h2 M37.50 28.25 h2 M37.50 24.10 h2 M37.50 20.51 h2 M37.50 17.34 h2 M37.50 14.50 h3.5 M374.50 181.84 h-2 M37.50 237.62 h3.5 M374.50 237.62 h-3.5 M37.50 228.30 h3.5 M374.50 228.30 h-3.5 M37.50 218.98 h3.5 M374.50 218.98 h-3.5 M37.50 209.65 h3.5 M374.50 209.65 h-3.5 M37.50 200.33 h3.5 M374.50 200.33 h-3.5 M37.50 274.70 h3.5 M374.50 274.70 h-3.5 M37.50 265.35 h3.5 M374.50 265.35 h-3.5 M37.50 256.00 h3.5 M374.50 256.00 h-3.5 M37.50 246.65 h3.5 M374.50 246.65 h-3.5 M37.50 237.30 h3.5 M374.50 237.30 h-3.5" stroke="#222" stroke-width="1" fill="none"/>
<rect x="42.1" y="148.0" width="222.6" height="47.6" fill="#fff" stroke="#4a4a4a" stroke-width="1.5"/>
<line x1="47.8" x2="62" y1="157.0" y2="157.0" stroke="#4a4af0" stroke-width="1.5"/>
<line x1="47.8" x2="62" y1="172.2" y2="172.2" stroke="#52a852" stroke-width="1.5"/>
<line x1="47.8" x2="62" y1="187.3" y2="187.3" stroke="#f04a4a" stroke-width="1.5"/>
<line x1="160" x2="174" y1="157.0" y2="157.0" stroke="#4ccfd4" stroke-width="1.5"/>
<line x1="160" x2="174" y1="172.2" y2="172.2" stroke="#dc50dc" stroke-width="1.5"/>
<line x1="160" x2="174" y1="187.3" y2="187.3" stroke="#cfc64a" stroke-width="1.5"/>
<path d="M81.3 7.4 H90.6 M88.2 4.6 Q89 6.6 91.2 7.4 Q89 8.2 88.2 10.2 M96.3 1.3 H98.6" stroke="#111" stroke-width="0.9" fill="none"/>
<path d="M10.3 213.6 V224.5 M11.8 249.7 V263.4" stroke="#333" stroke-width="0.8"/>
<text x="70.30" y="160.70" font-family="Liberation Sans" font-size="9.5" fill="#111">SM (MGaMC)</text>
<text x="70.74" y="175.30" font-family="Liberation Serif" font-style="italic" font-size="8.8" fill="#111" textLength="4.44" lengthAdjust="spacingAndGlyphs" style="stroke-width:0.1px">σ</text>
<text x="75.63" y="171.40" font-family="Liberation Serif" font-size="6.9" fill="#111" textLength="8.69" lengthAdjust="spacingAndGlyphs" style="stroke-width:0">(2)</text>
<text x="88.60" y="175.30" font-family="Liberation Sans" font-size="9.5" fill="#111" textLength="41.86" lengthAdjust="spacingAndGlyphs">(MGaMC)</text>
<text x="70.74" y="190.00" font-family="Liberation Serif" font-style="italic" font-size="8.8" fill="#111" textLength="4.44" lengthAdjust="spacingAndGlyphs" style="stroke-width:0.1px">σ</text>
<text x="75.63" y="186.10" font-family="Liberation Serif" font-size="6.9" fill="#111" textLength="8.69" lengthAdjust="spacingAndGlyphs" style="stroke-width:0">(2)</text>
<text x="88.60" y="190.00" font-family="Liberation Sans" font-size="9.5" fill="#111" textLength="50.30" lengthAdjust="spacingAndGlyphs">(RWGT-LO)</text>
<text x="182.34" y="160.70" font-family="Liberation Serif" font-style="italic" font-size="8.8" fill="#111" textLength="4.44" lengthAdjust="spacingAndGlyphs" style="stroke-width:0.1px">σ</text>
<text x="187.23" y="156.80" font-family="Liberation Serif" font-size="6.9" fill="#111" textLength="8.69" lengthAdjust="spacingAndGlyphs" style="stroke-width:0">(2)</text>
<text x="200.60" y="160.70" font-family="Liberation Sans" font-size="9.5" fill="#111" textLength="56.90" lengthAdjust="spacingAndGlyphs">(RWGT-NLO)</text>
<text x="182.34" y="175.30" font-family="Liberation Serif" font-style="italic" font-size="8.8" fill="#111" textLength="4.44" lengthAdjust="spacingAndGlyphs" style="stroke-width:0.1px">σ</text>
<text x="187.23" y="171.40" font-family="Liberation Serif" font-size="6.9" fill="#111" textLength="8.69" lengthAdjust="spacingAndGlyphs" style="stroke-width:0">(1)</text>
<text x="200.60" y="175.30" font-family="Liberation Sans" font-size="9.5" fill="#111" textLength="50.70" lengthAdjust="spacingAndGlyphs">(RWGT-LO)</text>
<text x="182.34" y="190.00" font-family="Liberation Serif" font-style="italic" font-size="8.8" fill="#111" textLength="4.44" lengthAdjust="spacingAndGlyphs" style="stroke-width:0.1px">σ</text>
<text x="187.23" y="186.10" font-family="Liberation Serif" font-size="6.9" fill="#111" textLength="8.69" lengthAdjust="spacingAndGlyphs" style="stroke-width:0">(1)</text>
<text x="200.60" y="190.00" font-family="Liberation Sans" font-size="9.5" fill="#111" textLength="56.90" lengthAdjust="spacingAndGlyphs">(RWGT-NLO)</text>
<text x="70.94" y="9.70" font-family="Liberation Serif" font-style="italic" font-size="10.6" fill="#111" textLength="10.45" lengthAdjust="spacingAndGlyphs" style="stroke-width:0.05px">pp</text>
<text x="91.43" y="9.70" font-family="Liberation Serif" font-style="italic" font-size="12" fill="#111" textLength="7.60" lengthAdjust="spacingAndGlyphs" style="stroke-width:0.05px">tt</text>
<text x="100.70" y="9.70" font-family="Liberation Serif" font-style="italic" font-size="11.6" fill="#111" textLength="7.05" lengthAdjust="spacingAndGlyphs" style="stroke-width:0.05px">Z</text>
<text x="111.88" y="9.70" font-family="Liberation Sans" font-size="10.75" fill="#111" textLength="196.27" lengthAdjust="spacingAndGlyphs">@NLO in the SM and for EFT model (</text>
<text x="309.04" y="9.70" font-family="Liberation Serif" font-style="italic" font-size="10.6" fill="#111" textLength="4.81" lengthAdjust="spacingAndGlyphs" style="stroke-width:0.05px">c</text>
<text x="313.55" y="11.90" font-family="Liberation Serif" font-style="italic" font-size="7.4" fill="#111" textLength="7.95" lengthAdjust="spacingAndGlyphs" style="stroke-width:0.05px">tq</text>
<text x="321.90" y="9.40" font-family="Liberation Serif" font-size="10.6" fill="#111" textLength="8.38" lengthAdjust="spacingAndGlyphs" style="stroke-width:0.05px">=</text>
<text x="330.42" y="9.70" font-family="Liberation Serif" font-size="10.6" fill="#111" textLength="6.22" lengthAdjust="spacingAndGlyphs" style="stroke-width:0.05px">1</text>
<text x="338.30" y="9.70" font-family="Liberation Sans" font-size="10.75" fill="#111" textLength="2.76" lengthAdjust="spacingAndGlyphs">)</text>
<text x="14.21" y="17.20" font-family="Liberation Sans" font-size="10.3" fill="#111" textLength="10.59" lengthAdjust="spacingAndGlyphs">10</text>
<text x="25.93" y="11.70" font-family="Liberation Sans" font-size="5.8" fill="#111" textLength="5.54" lengthAdjust="spacingAndGlyphs">-1</text>
<text x="14.21" y="79.50" font-family="Liberation Sans" font-size="10.3" fill="#111" textLength="10.59" lengthAdjust="spacingAndGlyphs">10</text>
<text x="25.93" y="74.10" font-family="Liberation Sans" font-size="5.8" fill="#111" textLength="5.54" lengthAdjust="spacingAndGlyphs">-2</text>
<text x="14.21" y="141.50" font-family="Liberation Sans" font-size="10.3" fill="#111" textLength="10.59" lengthAdjust="spacingAndGlyphs">10</text>
<text x="25.93" y="136.10" font-family="Liberation Sans" font-size="5.8" fill="#111" textLength="5.54" lengthAdjust="spacingAndGlyphs">-3</text>
<text x="14.21" y="203.50" font-family="Liberation Sans" font-size="10.3" fill="#111" textLength="10.59" lengthAdjust="spacingAndGlyphs">10</text>
<text x="25.93" y="198.10" font-family="Liberation Sans" font-size="5.8" fill="#111" textLength="5.54" lengthAdjust="spacingAndGlyphs">-4</text>
<text x="21.85" y="240.82" font-family="Liberation Sans" font-size="9.9" fill="#111" textLength="13.68" lengthAdjust="spacingAndGlyphs">0.5</text>
<text x="21.32" y="231.50" font-family="Liberation Sans" font-size="9.9" fill="#111" textLength="14.22" lengthAdjust="spacingAndGlyphs">1.0</text>
<text x="21.32" y="222.18" font-family="Liberation Sans" font-size="9.9" fill="#111" textLength="14.22" lengthAdjust="spacingAndGlyphs">1.5</text>
<text x="21.59" y="212.85" font-family="Liberation Sans" font-size="9.9" fill="#111" textLength="13.95" lengthAdjust="spacingAndGlyphs">2.0</text>
<text x="21.85" y="277.90" font-family="Liberation Sans" font-size="9.9" fill="#111" textLength="13.68" lengthAdjust="spacingAndGlyphs">0.6</text>
<text x="21.85" y="268.55" font-family="Liberation Sans" font-size="9.9" fill="#111" textLength="13.68" lengthAdjust="spacingAndGlyphs">0.8</text>
<text x="21.32" y="259.20" font-family="Liberation Sans" font-size="9.9" fill="#111" textLength="14.22" lengthAdjust="spacingAndGlyphs">1.0</text>
<text x="21.31" y="249.85" font-family="Liberation Sans" font-size="9.9" fill="#111" textLength="14.50" lengthAdjust="spacingAndGlyphs">1.2</text>
<text x="35.43" y="285.00" font-family="Liberation Sans" font-size="9.7" fill="#111" textLength="5.90" lengthAdjust="spacingAndGlyphs">0</text>
<text x="74.55" y="285.00" font-family="Liberation Sans" font-size="9.7" fill="#111" textLength="11.78" lengthAdjust="spacingAndGlyphs">50</text>
<text x="113.42" y="285.00" font-family="Liberation Sans" font-size="9.7" fill="#111" textLength="17.90" lengthAdjust="spacingAndGlyphs">100</text>
<text x="155.54" y="285.00" font-family="Liberation Sans" font-size="9.7" fill="#111" textLength="17.90" lengthAdjust="spacingAndGlyphs">150</text>
<text x="197.96" y="285.00" font-family="Liberation Sans" font-size="9.7" fill="#111" textLength="17.60" lengthAdjust="spacingAndGlyphs">200</text>
<text x="240.08" y="285.00" font-family="Liberation Sans" font-size="9.7" fill="#111" textLength="17.60" lengthAdjust="spacingAndGlyphs">250</text>
<text x="282.48" y="285.00" font-family="Liberation Sans" font-size="9.7" fill="#111" textLength="17.32" lengthAdjust="spacingAndGlyphs">300</text>
<text x="324.61" y="285.00" font-family="Liberation Sans" font-size="9.7" fill="#111" textLength="17.32" lengthAdjust="spacingAndGlyphs">350</text>
<text x="366.73" y="285.00" font-family="Liberation Sans" font-size="9.7" fill="#111" textLength="17.32" lengthAdjust="spacingAndGlyphs">400</text>
<text x="350.90" y="290.80" font-family="Liberation Serif" font-style="italic" font-size="11.2" fill="#111" textLength="7.50" lengthAdjust="spacingAndGlyphs" style="stroke-width:0.05px">P</text>
<text x="357.70" y="286.10" font-family="Liberation Serif" font-style="italic" font-size="6" fill="#111" textLength="3.73" lengthAdjust="spacingAndGlyphs" style="stroke-width:0.05px">Z</text>
<text x="355.45" y="293.20" font-family="Liberation Serif" font-style="italic" font-size="7" fill="#111" textLength="4.30" lengthAdjust="spacingAndGlyphs" style="stroke-width:0.05px">T</text>
<text transform="rotate(-90)" x="-98.01" y="6.10" font-family="Liberation Serif" font-style="italic" font-size="8.5" fill="#111" textLength="5.24" lengthAdjust="spacingAndGlyphs" style="stroke-width:0.1px">σ</text>
<text transform="rotate(-90)" x="-92.80" y="10.20" font-family="Liberation Serif" font-style="italic" font-size="8" fill="#111" textLength="13.96" lengthAdjust="spacingAndGlyphs" style="stroke-width:0.12px">NLO</text>
<text transform="rotate(-90)" x="-76.16" y="7.00" font-family="Liberation Sans" font-size="9.6" fill="#111" textLength="53.33" lengthAdjust="spacingAndGlyphs">per bin [pb]</text>
<text transform="rotate(-90)" x="-205.55" y="385.00" font-family="Liberation Sans" font-size="9.6" fill="#111">MadGraph5_aMC@NLO</text>
<text transform="rotate(-90)" x="-224.90" y="9.00" font-family="Liberation Serif" font-style="italic" font-size="7" fill="#111" textLength="11.50" lengthAdjust="spacingAndGlyphs" style="stroke-width:0.12px">EFT</text>
<text transform="rotate(-90)" x="-223.00" y="15.70" font-family="Liberation Serif" font-style="italic" font-size="7" fill="#111" textLength="9.01" lengthAdjust="spacingAndGlyphs" style="stroke-width:0.12px">SM</text>
<text transform="rotate(-90)" x="-261.90" y="9.30" font-family="Liberation Serif" font-style="italic" font-size="7" fill="#111" textLength="12.11" lengthAdjust="spacingAndGlyphs" style="stroke-width:0.12px">Rwgt</text>
<text transform="rotate(-90)" x="-261.90" y="16.90" font-family="Liberation Serif" font-style="italic" font-size="7" fill="#111" textLength="9.77" lengthAdjust="spacingAndGlyphs" style="stroke-width:0.12px">EFT</text>
</svg></body></html>
